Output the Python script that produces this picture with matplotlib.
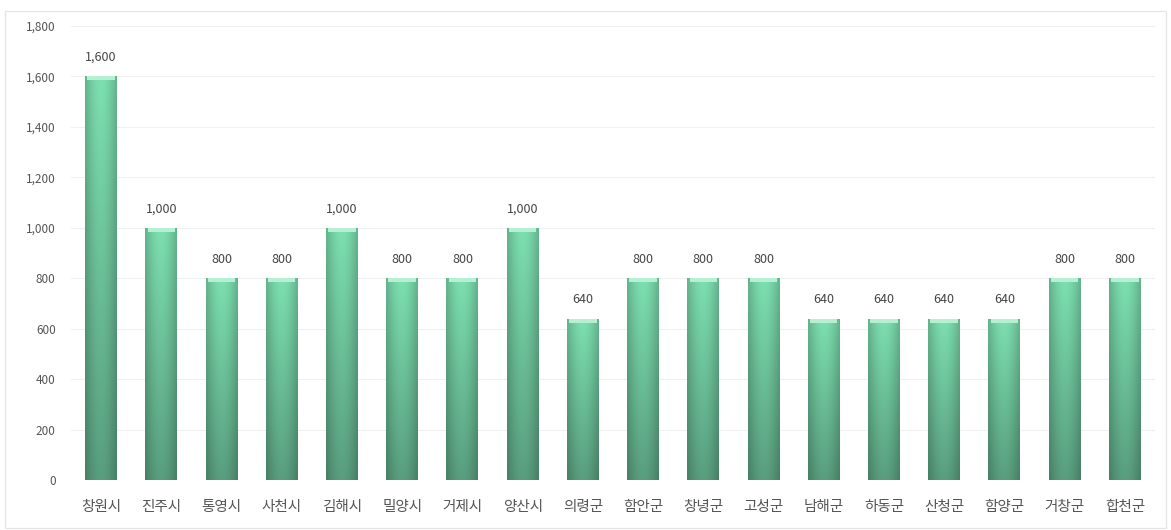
import matplotlib
matplotlib.use("Agg")
import matplotlib.pyplot as plt
import numpy as np
from matplotlib.colors import to_rgb

plt.rcParams['font.family'] = ['Noto Sans CJK KR', 'DejaVu Sans']

categories = ["창원시", "진주시", "통영시", "사천시", "김해시", "밀양시", "거제시", "양산시", "의령군",
              "함안군", "창녕군", "고성군", "남해군", "하동군", "산청군", "함양군", "거창군", "합천군"]
values = [1600, 1000, 800, 800, 1000, 800, 800, 1000, 640,
          800, 800, 800, 640, 640, 640, 640, 800, 800]
yticks = [0, 200, 400, 600, 800, 1000, 1200, 1400, 1600, 1800]

fig = plt.figure(figsize=(11.71, 5.30), dpi=100)
fig.patch.set_facecolor("white")
ax = fig.add_axes([0.0606, 0.094, 0.9257, 0.857])
x = np.arange(len(categories))
width = 0.53

# cylinder-like colour image: horizontal shading times vertical fade
top = np.array(to_rgb("#79d9ab"))
bot = np.array(to_rgb("#56997a"))
h = np.linspace(0, 1, 64)
hshade = 0.80 + 0.20 * np.sin(np.pi * h)          # darker at edges
vfrac = np.linspace(0, 1, 128)[:, None]            # 0 top -> 1 bottom
base = top[None, None, :] * (1 - vfrac[..., None]) + bot[None, None, :] * vfrac[..., None]
img = np.clip(base * hshade[None, :, None] / 0.97, 0, 1)

ax.set_xlim(-0.5, len(categories) - 0.5)
ax.set_ylim(0, 1800)

for yv in yticks[1:]:
    ax.axhline(yv, color="#f0f0f0", lw=0.8, zorder=0)

bars = ax.bar(x, values, width=width, color="#6cc79a", zorder=2)
for b, v in zip(bars, values):
    x0 = b.get_x()
    im = ax.imshow(img, extent=[x0, x0 + width, 0, v], aspect="auto", zorder=3,
                   interpolation="bilinear")
    im.set_clip_path(b)
    ax.bar(x0 + width / 2, 16, width=width * 0.86, bottom=v - 16, color="#b5f0d2", zorder=4, lw=0)
    ax.text(x0 + width / 2, v + 50, f"{v:,}", ha="center", va="bottom",
            fontsize=9, color="#444444", zorder=5)

ax.set_xticks(x)
ax.set_xticklabels(categories, fontsize=10.5, color="#555555")
ax.set_yticks(yticks)
ax.set_yticklabels([f"{t:,}" for t in yticks], fontsize=8.5, color="#555555")
ax.tick_params(axis="y", length=0, pad=11)
ax.tick_params(axis="x", length=0, pad=14)
for s in ax.spines.values():
    s.set_visible(False)

fig.add_artist(plt.Rectangle((0.004, 0.004), 0.992, 0.975, transform=fig.transFigure,
                             fill=False, ec="#e6e6e6", lw=1))

fig.savefig("out.png", dpi=100)
